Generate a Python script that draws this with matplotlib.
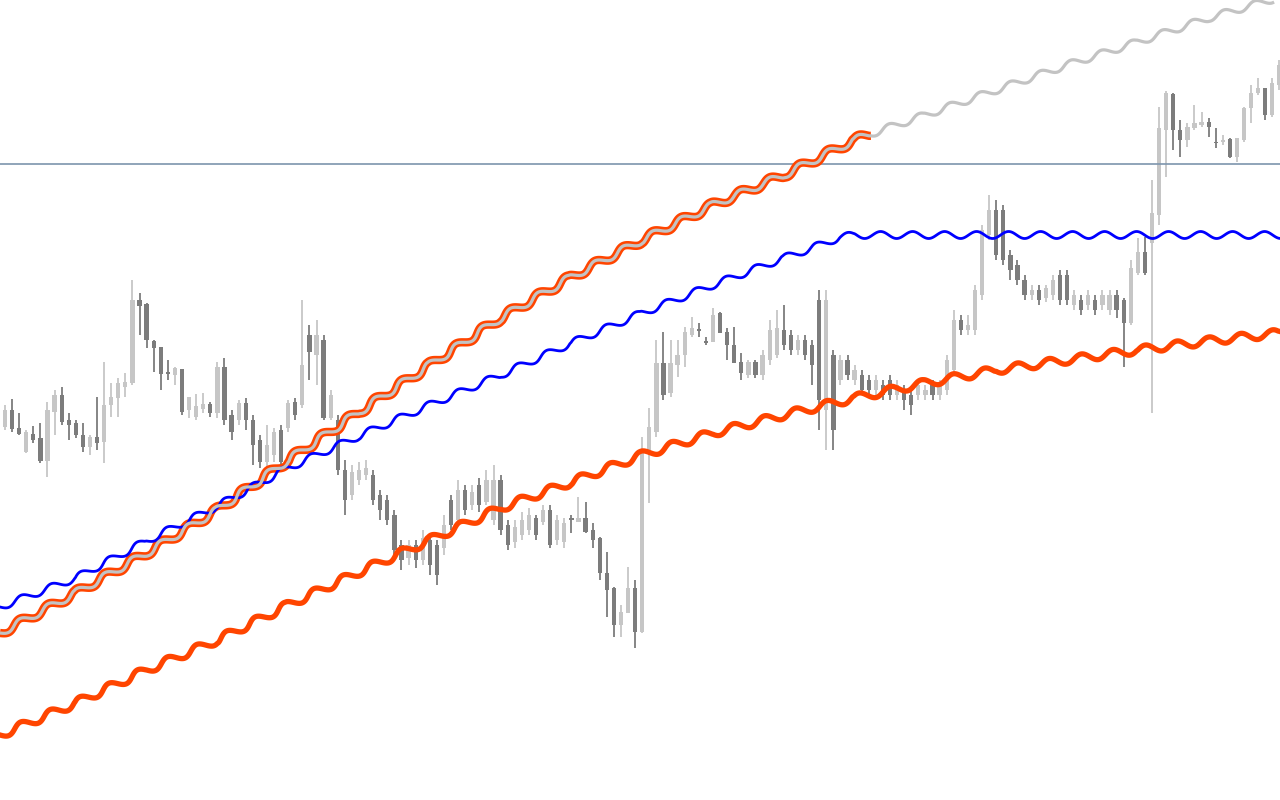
import matplotlib
matplotlib.use("Agg")
import matplotlib.pyplot as plt
import numpy as np

plt.rcParams['path.simplify'] = False

# ---- candle data (price units) ----
opens = [373,390,372,348,366,362,339,388,405,380,377,365,353,363,358,395,402,413,417,500,
         496,459,453,428,425,431,390,383,391,396,387,433,385,380,397,380,360,338,345,370,
         372,398,395,465,445,460,382,380,330,305,320,325,325,305,300,285,255,242,255,240,
         260,255,252,300,280,310,295,315,298,280,320,275,258,265,270,282,278,290,260,258,
         282,278,282,270,262,227,212,175,187,212,168,350,368,437,407,435,445,465,471,459,
         458,487,468,455,438,425,438,425,440,445,470,465,450,460,455,500,390,445,420,440,
         420,425,420,410,415,420,405,410,405,405,405,415,405,410,430,480,470,470,505,565,
         590,590,545,535,520,505,510,502,505,525,525,495,500,495,500,495,490,505,500,477,
         527,548,557,585,670,706,670,660,672,675,678,658,658,661,643,660,692,707,712,685,
         715]
highs = [395,401,387,370,374,377,398,410,413,387,380,377,365,403,438,417,422,427,520,507,
         497,460,453,440,433,431,403,406,407,398,438,442,390,400,402,385,365,375,372,375,
         400,402,500,475,480,465,410,385,340,335,338,340,330,310,305,290,260,260,260,270,
         265,260,285,305,320,315,315,322,330,335,325,280,280,288,292,285,295,295,285,282,
         285,303,298,277,263,248,213,195,233,220,363,392,460,468,460,460,473,483,477,463,
         492,488,472,473,447,440,440,450,480,490,495,470,465,465,460,510,510,450,445,445,
         435,430,425,425,420,425,420,415,410,420,415,420,420,445,490,485,485,515,575,605,
         600,595,550,540,525,515,515,515,525,530,530,510,505,510,505,510,510,510,502,540,
         562,563,620,693,709,707,680,677,695,688,682,672,665,662,662,693,715,722,712,722,
         740]
lows = [370,368,365,347,357,337,323,365,375,360,362,348,345,350,337,383,383,403,415,465,
        452,428,410,420,415,385,382,380,387,383,382,375,360,375,370,335,332,330,338,330,
        368,380,392,420,415,380,380,325,285,300,315,320,295,280,275,240,230,235,232,235,
        225,215,245,270,275,285,290,288,295,275,265,250,252,260,265,260,275,252,255,252,
        267,278,267,252,220,183,163,163,187,152,167,297,363,400,403,423,433,463,463,455,
        458,467,440,437,420,422,422,420,435,442,450,445,445,440,415,370,350,350,415,420,
        415,405,405,405,400,400,400,390,385,400,400,400,400,405,425,465,465,465,500,560,
        540,535,520,515,500,500,495,498,500,495,495,490,485,490,485,490,485,482,433,475,
        525,525,387,575,623,650,643,653,670,673,663,652,655,642,638,658,677,705,680,683,
        710]
closes = [390,371,366,368,360,339,390,405,378,375,365,353,363,357,395,403,417,418,500,494,
          460,452,426,426,432,388,403,394,396,387,433,380,368,397,380,355,338,355,368,338,
          397,385,435,448,465,382,405,330,300,328,330,332,300,290,280,250,240,255,240,262,
          235,225,275,275,310,290,308,295,320,320,270,255,273,280,285,265,290,255,280,277,
          280,282,268,260,227,210,175,188,212,168,348,373,437,405,437,445,468,472,469,457,
          485,467,455,437,427,438,425,445,470,472,455,450,460,445,435,400,500,370,440,425,
          430,410,410,420,405,405,415,400,395,415,410,405,415,440,480,470,475,510,570,590,
          545,540,530,520,505,510,500,512,520,500,500,505,490,505,490,505,505,490,477,532,
          548,527,587,672,707,670,660,673,677,678,673,657,660,643,662,692,707,712,685,717,
          735]

# ---- indicator lines (candle index, price) ----
blue_x = [-0.706, 10, 20, 30, 40, 50, 60, 70, 80, 90, 100, 110, 114, 118, 120, 180.08]
blue_y = [193, 222, 259, 294, 332, 364, 395, 425, 457, 487, 515, 542, 552, 563, 565, 565]

upper_x = [-0.706, 10, 20, 30, 40, 50, 60, 70, 80, 90, 100, 110, 120, 122.2]
upper_y = [167, 207, 247, 290, 340, 388, 435, 482, 523, 560, 595, 625, 660, 666]
grey_ext_x = [130, 140, 150, 160, 170, 180.08]
grey_ext_y = [685, 710, 735, 758, 782, 803]

lower_x = [-0.706, 10, 20, 30, 40, 50, 60, 70, 80, 90, 100, 110, 120, 130, 140, 150, 160, 170, 180.08]
lower_y = [65, 97, 130, 160, 195, 228, 260, 292, 318, 345, 367, 385, 402, 417, 430, 440, 450, 459, 467]

level_price = 636

# ---- figure ----
fig = plt.figure(figsize=(12.8, 8), dpi=100)
ax = fig.add_axes([0, 0, 1, 1])
ax.set_xlim(-0.706, 180.08)
ax.set_ylim(0, 800)
ax.axis('off')

o = np.array(opens, float); h = np.array(highs, float)
l = np.array(lows, float); c = np.array(closes, float)
idx = np.arange(len(o))
up = c >= o
col_up, col_dn = '#c6c6c6', '#7c7c7c'
colors = np.where(up, col_up, col_dn)

ax.vlines(idx, l, h, colors=colors, linewidth=1.3, zorder=1)
body_lo = np.minimum(o, c)
body_h = np.maximum(np.abs(c - o), 1.2)
ax.bar(idx, body_h, bottom=body_lo, width=0.6, color=colors, linewidth=0, zorder=2)

# horizontal level
ax.axhline(level_price, color='#7d95ad', linewidth=1.2, zorder=3)

wave_b = dict(scale=3.5, length=32, randomness=1)
wave_o = dict(scale=4.0, length=32, randomness=1)

# grey line (full) with orange ribbon on first part
gx = upper_x + grey_ext_x
gy = upper_y + grey_ext_y
ln_or, = ax.plot(upper_x, upper_y, color='#ff4500', linewidth=6.0, zorder=4,
                 solid_capstyle='butt', solid_joinstyle='round')
ln_or.set_sketch_params(**wave_b)
ln_gr, = ax.plot(gx, gy, color='#c3c3c3', linewidth=2.3, zorder=5,
                 solid_capstyle='butt', solid_joinstyle='round')
ln_gr.set_sketch_params(**wave_b)

ln_b, = ax.plot(blue_x, blue_y, color='#0000ff', linewidth=2.0, zorder=4,
                solid_joinstyle='round')
ln_b.set_sketch_params(**wave_b)

ln_lo, = ax.plot(lower_x, lower_y, color='#ff4500', linewidth=3.8, zorder=4,
                 solid_joinstyle='round')
ln_lo.set_sketch_params(**wave_o)

fig.savefig('out.png', dpi=100, facecolor='white')
